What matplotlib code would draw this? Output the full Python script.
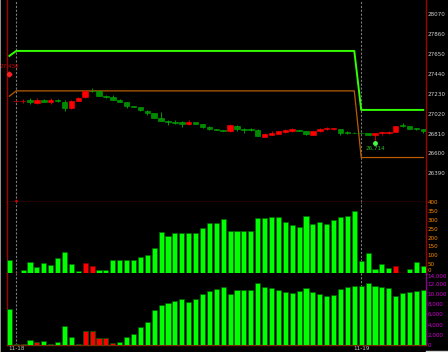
import matplotlib
matplotlib.use("Agg")
import matplotlib.pyplot as plt
import numpy as np
from matplotlib.lines import Line2D
from matplotlib.ticker import FuncFormatter

# candles (NaN = not drawn)
opens = [np.nan, 27155, 27155, 27166, 27131, 27169, 27142, 27166, 27148, 27078,
         27159, 27194, 27264, 27261, 27208, 27198, 27169, 27142, 27103, 27092,
         27050, 27026, 26973, 26948, 26937, 26927, 26913, 26930, 26910, 26881,
         26857, 26850, 26832, 26895, 26863, 26860, 26853, 26779, 26797, 26807,
         26828, 26842, 26850, 26839, 26800, 26842, 26857, 26857, 26860, 26825,
         26821, 26821, 26815, 26794, 26818, 26815, 26828, 26902, 26885, 26867,
         26857]
closes = [np.nan, 27155, 27155, 27148, 27169, 27145, 27169, 27152, 27078, 27155,
          27190, 27261, 27258, 27211, 27198, 27169, 27148, 27106, 27092, 27057,
          27029, 26979, 26944, 26937, 26923, 26913, 26937, 26910, 26878, 26857,
          26846, 26836, 26902, 26860, 26853, 26850, 26783, 26807, 26811, 26832,
          26846, 26860, 26842, 26804, 26839, 26857, 26874, 26867, 26821, 26815,
          26815, 26815, 26794, 26815, 26825, 26828, 26892, 26888, 26863, 26857,
          26842]
highs = [np.nan, 27165, 27176, 27184, 27184, 27175, 27184, 27170, 27166, 27166,
         27195, 27275, 27293, 27265, 27219, 27219, 27172, 27148, 27106, 27095,
         27064, 27030, 27036, 26955, 26958, 26944, 26958, 26934, 26913, 26885,
         26860, 26853, 26906, 26899, 26867, 26867, 26857, 26811, 26832, 26836,
         26857, 26867, 26853, 26842, 26842, 26867, 26878, 26870, 26863, 26842,
         26825, 26825, 26818, 26818, 26842, 26839, 26895, 26920, 26888, 26870,
         26860]
lows = [np.nan, 27145, 27134, 27127, 27121, 27140, 27121, 27148, 27050, 27071,
        27155, 27184, 27247, 27205, 27190, 27163, 27142, 27085, 27088, 27050,
        27008, 26972, 26940, 26902, 26910, 26884, 26902, 26906, 26867, 26853,
        26843, 26832, 26829, 26832, 26818, 26832, 26780, 26776, 26794, 26804,
        26815, 26828, 26839, 26800, 26797, 26828, 26853, 26853, 26800, 26807,
        26811, 26811, 26790, 26714, 26797, 26807, 26825, 26878, 26860, 26853,
        26821]

upper_band = [27630] + [27683] * 50 + [27060] * 10
lower_band = [27205] + [27261] * 50 + [26557] * 10

volume = [71, 2, 19, 62, 36, 58, 47, 84, 118, 52, 9, 58, 37, 19, 17, 71, 75, 75,
          75, 92, 99, 142, 232, 209, 226, 228, 228, 228, 252, 282, 282, 306, 239,
          239, 239, 239, 310, 310, 318, 314, 290, 271, 262, 320, 277, 286, 277,
          301, 314, 321, 348, 69, 112, 24, 52, 30, 41, 0, 24, 64, 39]
volume_red = [1, 11, 12, 56]

oi = [6950, 150, 150, 980, 460, 720, 150, 520, 3670, 1500, 130, 2690, 2690, 1310,
      1250, 400, 520, 1570, 2100, 3480, 4400, 6820, 7800, 8130, 8590, 8860, 8460,
      8920, 9900, 10430, 10950, 11280, 9900, 10630, 10690, 10690, 12070, 11350,
      11150, 10630, 10360, 10040, 10430, 11150, 10300, 9840, 9640, 9770, 10950,
      11280, 11550, 11550, 12140, 11480, 11350, 11090, 9580, 10040, 10360, 10500,
      10690]
oi_red = [2, 4, 11, 12, 13, 14, 15]
oi_gray = [1, 6, 10]

date_pos = [1, 51]
date_labels = ["11-18", "11-19"]
high_mark = (0, 27436)
low_mark = (53, 26714)

price_ticks = [26390, 26600, 26810, 27020, 27230, 27440, 27650, 27860, 28070]
vol_ticks = [0, 50, 100, 150, 200, 250, 300, 350, 400]
oi_ticks = [0, 2000, 4000, 6000, 8000, 10000, 12000, 14000]

SPINE = "#a00000"
FS = 4.1

fig = plt.figure(figsize=(4.48, 3.52), dpi=100, facecolor="black")
L, W = 0.015, 0.936
ax1 = fig.add_axes([L, 0.4261, W, 0.5739], facecolor="black")
ax2 = fig.add_axes([L, 0.2244, W, 0.2017], facecolor="black", sharex=ax1)
ax3 = fig.add_axes([L, 0.0207, W, 0.2037], facecolor="black", sharex=ax1)

x = np.arange(len(volume))

# price panel
for i in x:
    o, c, h, l = opens[i], closes[i], highs[i], lows[i]
    if np.isnan(o):
        continue
    up = c >= o
    wick = "#c00000" if up else "#009a00"
    face = "#ff0000" if up else "#008a00"
    edge = "#ff0000" if up else "#00aa00"
    ax1.vlines(i, l, h, color=wick, lw=0.7, zorder=3)
    body = max(abs(c - o), 4)
    ax1.bar(i, body, bottom=min(o, c), width=0.8, color=face,
            edgecolor=edge, lw=0.4, zorder=4)

ax1.plot(x, upper_band, color="#33ff00", lw=1.4, zorder=2)
ax1.plot(x, lower_band, color="#b85c00", lw=0.9, zorder=2)

ax1.plot(*high_mark, marker="D", ms=2.5, color="#ff2020", zorder=5)
ax1.annotate(f"{high_mark[1]:,}", high_mark, xytext=(0, 4), textcoords="offset points",
             ha="center", va="bottom", color="#d00000", fontsize=FS)
ax1.plot(*low_mark, marker="o", ms=2.5, color="#40ff40", zorder=5)
ax1.annotate(f"{low_mark[1]:,}", low_mark, xytext=(0, -2), textcoords="offset points",
             ha="center", va="top", color="#20c020", fontsize=FS)
ax1.plot(date_pos[0], 26100, marker="^", ms=2.2, color="#d00000", zorder=5)

ax1.set_ylim(26087, 28221)
ax1.set_yticks(price_ticks)

# volume panel
vcol = ["#ff0000" if i in volume_red else "#00ff00" for i in x]
vedge = ["#800000" if i in volume_red else "#006400" for i in x]
ax2.bar(x, volume, width=0.74, color=vcol, edgecolor=vedge, lw=0.5, zorder=3)
ax2.set_ylim(0, 400)
ax2.set_yticks(vol_ticks)

# open interest panel
ocol = []
for i in x:
    if i in oi_red:
        ocol.append("#ff0000")
    elif i in oi_gray:
        ocol.append("#5a6a72")
    else:
        ocol.append("#00ff00")
ax3.bar(x, oi, width=0.74, color=ocol, edgecolor="#005a00", lw=0.5, zorder=3)
ax3.set_ylim(0, 14050)
ax3.set_yticks(oi_ticks)
ax3.yaxis.set_major_formatter(FuncFormatter(lambda v, p: f"{int(v):,}"))

ax1.set_xlim(-0.38, 60.4)
ax3.set_xticks(date_pos)
ax3.set_xticklabels(date_labels)

label_cols = ["#d0d0d0", "#ff8a00", "#d000d0"]
for ax, lc in zip([ax1, ax2, ax3], label_cols):
    for p in date_pos:
        ax.axvline(p, color="#7a7a7a", lw=0.8, ls=(0, (2, 1.5)), zorder=1)
    ax.yaxis.tick_right()
    ax.tick_params(axis="y", length=0, pad=1.2, labelsize=FS, colors=lc)
    ax.tick_params(axis="x", length=0, pad=1.0, labelsize=FS, colors="#c8c8c8")
    for s in ax.spines.values():
        s.set_color(SPINE)
        s.set_linewidth(1.0)
    ax.spines["top"].set_visible(False)
    for lab in ax.get_yticklabels():
        lab.set_horizontalalignment("left")

# keep the shared-boundary labels ("0" of volume, "14,000" of OI) apart
ax2.get_yticklabels()[0].set_verticalalignment("bottom")
ax3.get_yticklabels()[-1].set_verticalalignment("top")

ax1.tick_params(axis="x", labelbottom=False)
ax2.tick_params(axis="x", labelbottom=False)
ax2.spines["bottom"].set_color("#900000")
ax3.spines["bottom"].set_color("#7a2a00")
ax3.spines["right"].set_color("#900090")

fig.add_artist(Line2D([0.001, 0.001], [0, 1], color="#b0b0b0", lw=1.2))
fig.add_artist(Line2D([0.951, 1.0], [0.004, 0.004], color="#d0d0d0", lw=1.0))

fig.savefig("out.png", dpi=100, facecolor="black")
